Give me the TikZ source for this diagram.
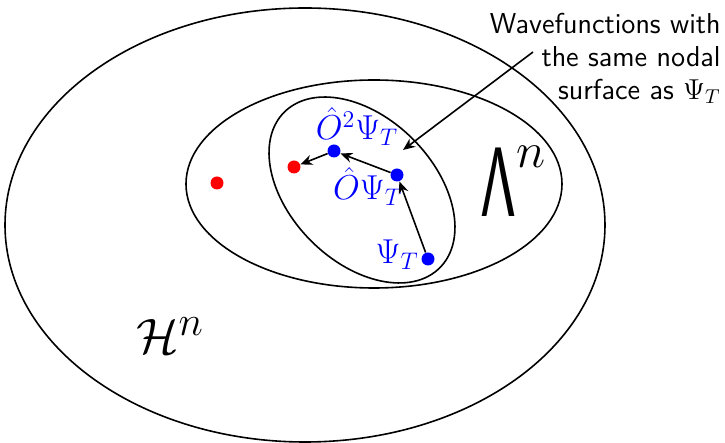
\documentclass[tikz,border=0pt]{standalone}
\usepackage{amsmath}
\usepackage{graphicx}
\usetikzlibrary{arrows.meta}
\begin{document}
\begin{tikzpicture}[x=0.5pt, y=-0.5pt, every node/.style={font=\sffamily}]
    \useasboundingbox (0,0) rectangle (725,443);
    \tikzset{
        dot/.style={circle, inner sep=0pt, minimum size=6.5pt},
        lbl/.style={blue, inner sep=0pt, font=\fontsize{17}{19}\selectfont},
        arr/.style={thick, -{Stealth[length=6pt, width=5pt]}}
    }

    % Raeume
    \draw[thick] (305,225) ellipse [x radius=300, y radius=217];
    \draw[thick] (374,184) ellipse [x radius=188, y radius=104];
    \draw[thick, rotate around={-45:(362,190)}] (362,190) ellipse [x radius=110, y radius=72];

    % Punkte
    \node[dot, fill=red] (r1) at (217,183) {};
    \node[dot, fill=red] (r2) at (294,167) {};
    \node[dot, fill=blue] (o2) at (334,151) {};
    \node[dot, fill=blue] (o1) at (397,175) {};
    \node[dot, fill=blue] (psi) at (428,259) {};

    \node[lbl, anchor=base] (lo2) at (357,140) {$\hat{O}^2\Psi_T$};
    \node[lbl, anchor=base] (lo1) at (368,200) {$\hat{O}\Psi_T$};
    \node[lbl, anchor=base east] (lpsi) at (419,264) {$\Psi_T$};

    % Pfeile
    \draw[arr] (psi) -- (o1);
    \draw[arr] (o1) -- (o2);
    \draw[arr] (o2) -- (r2);

    % Beschriftungen
    \node[font=\fontsize{38}{40}\selectfont, inner sep=0pt, anchor=base west] (lam) at (480,217)
        {$\text{\scalebox{0.83}[1.3]{\sffamily Λ}}^n$};
    \node[font=\fontsize{29}{32}\selectfont, inner sep=0pt] (hil) at (170,336) {$\mathcal{H}^n$};

    \node[anchor=north east, align=right, inner sep=0pt, font=\sffamily\fontsize{14.4}{16.5}\selectfont] (txt) at (721,13)
        {Wavefunctions with\\the same nodal\\surface as $\Psi_T$};
    \coordinate (nodal) at (533,52);
    \coordinate (surf) at (403,150);
    \draw[arr] (nodal) -- (surf);
\end{tikzpicture}
\end{document}
